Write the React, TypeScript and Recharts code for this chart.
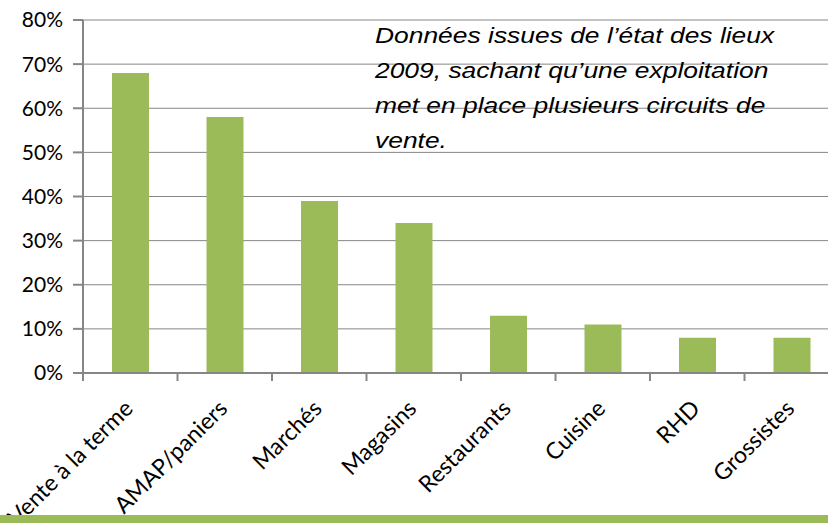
import React from "react";
import { BarChart, Bar, XAxis, YAxis, CartesianGrid } from "recharts";

// Circuits de vente (état des lieux 2009)
const categories = [
  "Vente à la terme",
  "AMAP/paniers",
  "Marchés",
  "Magasins",
  "Restaurants",
  "Cuisine",
  "RHD",
  "Grossistes",
];
const shares = [0.68, 0.58, 0.39, 0.34, 0.13, 0.11, 0.08, 0.08];
const yTicks = [0, 0.1, 0.2, 0.3, 0.4, 0.5, 0.6, 0.7, 0.8];

const data = categories.map((name, i) => ({ name, share: shares[i] }));

const GREEN = "#9bbb59";
const GREY = "#868686";
const TICK_FONT = "Lato, 'Open Sans', sans-serif";

const CHART_W = 850;
const Y_AXIS_W = 83;
const RIGHT = 11;
const BAND = (CHART_W - Y_AXIS_W - RIGHT) / categories.length;

// label + Excel-style tick mark on the left edge of each category
const RotatedTick = (props: any) => {
  const { x, y, payload } = props;
  const axisY = y - 8; // tickSize 6 + tickMargin 2
  const edge = x - BAND / 2;
  const tx = x + 4;
  const ty = y + 29;
  return (
    <g>
      <line x1={edge} x2={edge} y1={axisY} y2={axisY + 8} stroke={GREY} strokeWidth={2} />
      <text
        x={tx}
        y={ty}
        transform={`rotate(-45, ${tx}, ${ty})`}
        textAnchor="end"
        fontFamily={TICK_FONT}
        fontSize={23}
        fill="#000"
      >
        {payload.value}
      </text>
    </g>
  );
};

const App = () => {
  return (
    <div
      style={{
        position: "absolute",
        left: 0,
        top: 0,
        width: 828,
        height: 523,
        overflow: "hidden",
        background: "#fff",
      }}
    >
      <BarChart
        width={CHART_W}
        height={523}
        data={data}
        barSize={37}
        margin={{ top: 20, right: RIGHT, left: 0, bottom: 0 }}
      >
        <CartesianGrid vertical={false} stroke={GREY} />
        <XAxis
          dataKey="name"
          interval={0}
          height={150}
          tickSize={6}
          tickMargin={2}
          tickLine={false}
          axisLine={{ stroke: GREY, strokeWidth: 2 }}
          tick={<RotatedTick />}
        />
        <YAxis
          width={Y_AXIS_W}
          domain={[0, 0.8]}
          ticks={yTicks}
          interval={0}
          tickFormatter={(v: number) => `${Math.round(v * 100)}%`}
          tickSize={10}
          tickMargin={10}
          axisLine={{ stroke: GREY, strokeWidth: 2 }}
          tickLine={{ stroke: GREY, strokeWidth: 2 }}
          tick={{ fill: "#000", fontSize: 21, fontFamily: TICK_FONT }}
        />
        <Bar dataKey="share" fill={GREEN} isAnimationActive={false} />
      </BarChart>
      <div
        style={{
          position: "absolute",
          left: 375,
          top: 18,
          width: 360,
          fontFamily: "'Liberation Sans', Arial, sans-serif",
          fontStyle: "italic",
          fontSize: 22,
          lineHeight: "35px",
          color: "#000",
          transform: "scaleX(1.2)",
          transformOrigin: "left top",
        }}
      >
        Données issues de l’état des lieux 2009, sachant qu’une exploitation
        met en place plusieurs circuits de vente.
      </div>
      <div
        style={{
          position: "absolute",
          left: 0,
          top: 515,
          width: 828,
          height: 8,
          background: GREEN,
        }}
      />
    </div>
  );
};

export default App;
